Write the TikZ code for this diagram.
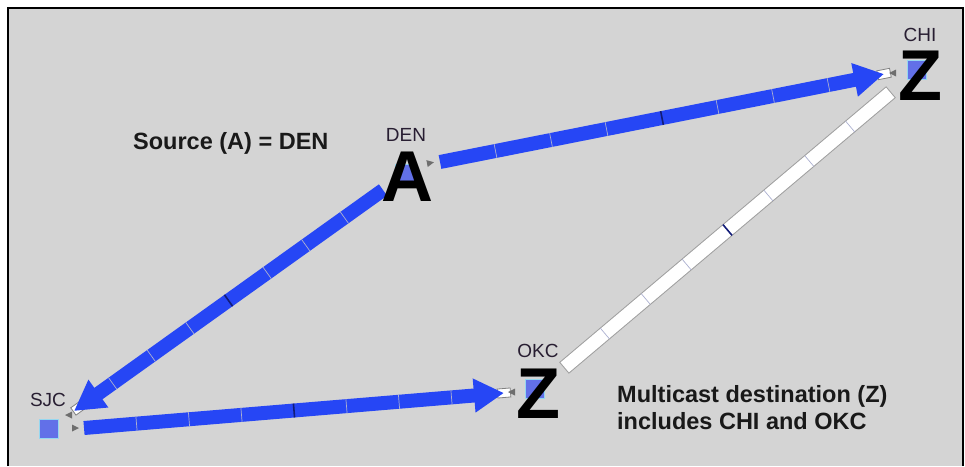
\documentclass[tikz,border=0pt]{standalone}
\usepackage{fontspec}
\setmainfont{Liberation Sans}
\usetikzlibrary{arrows.meta}

\definecolor{panel}{RGB}{212,212,212}
\definecolor{linkblue}{RGB}{38,70,245}
\definecolor{tickblue}{RGB}{18,28,120}
\definecolor{sitefill}{RGB}{98,112,232}
\definecolor{siteglow}{RGB}{150,215,240}
\definecolor{namecol}{RGB}{40,30,50}
\definecolor{markgray}{RGB}{110,110,110}

\newcommand{\portmark}[3]{\fill [markgray, shift={(#1,#2)}, rotate=#3] (4,0) -- (-3,3.5) -- (-3,-3.5) -- cycle;}

\begin{document}
\begin{tikzpicture}[x=1pt,y=-1pt,
    link/.style={draw=linkblue, line width=14pt, -{Triangle[length=30pt,width=32pt]}},
    majortick/.style={inner sep=0pt, minimum width=1.6pt, minimum height=14pt, fill=tickblue},
    minortick/.style={inner sep=0pt, minimum width=0.7pt, minimum height=14pt, fill=tickblue!35},
    portbox/.style={draw=gray, fill=white, line width=0.8pt, inner sep=0pt, minimum width=13pt, minimum height=9pt},
    site/.style={draw=siteglow, line width=1.5pt, fill=sitefill, inner sep=0pt, minimum size=19pt},
    sitename/.style={font=\fontsize{19}{22}\selectfont, text=namecol, inner sep=0pt, anchor=base},
    role/.style={font=\fontsize{72}{80}\selectfont\bfseries, inner sep=0pt, anchor=base},
    note/.style={font=\fontsize{23.5}{27.5}\selectfont\bfseries, text=black!90, inner sep=0pt, align=left}]
  \useasboundingbox (0,0) rectangle (965,466);
  \fill [panel] (8,8) rectangle (963,466);
  \draw [line width=1.5pt] (8,466) -- (8,8) -- (963,8) -- (963,466);

  % link end points
  \coordinate (denOut) at (440,162);
  \coordinate (chiIn) at (884,74);
  \coordinate (denLow) at (383,190);
  \coordinate (sjcIn) at (74,411);
  \coordinate (sjcOut) at (84,428);
  \coordinate (okcIn) at (504,393);
  \coordinate (okcUp) at (564,368);
  \coordinate (chiLow) at (891,92);

  % unused link
  \draw [draw=gray!75, line width=15pt] (okcUp) -- (chiLow);
  \draw [white, line width=13pt, shorten <=1pt, shorten >=1pt] (okcUp) -- (chiLow);

  % ports at the heads
  \path (denOut) -- (chiIn) node [pos=1, sloped, portbox] (chiPort) {};
  \path (denLow) -- (sjcIn) node [pos=0.985, sloped, portbox] (sjcPort) {};
  \path (sjcOut) -- (okcIn) node [pos=1, sloped, portbox] (okcPort) {};

  % multicast tree
  \draw [link] (denOut) -- (chiIn);
  \draw [link] (denLow) -- (sjcIn);
  \draw [link] (sjcOut) -- (okcIn);

  \foreach \a/\b in {denOut/chiIn, denLow/sjcIn, sjcOut/okcIn, okcUp/chiLow}
  {
    \path (\a) -- (\b) node [pos=0.5, sloped, majortick] {};
    \foreach \p in {0.125,0.25,0.375,0.625,0.75,0.875}
      \path (\a) -- (\b) node [pos=\p, sloped, minortick] {};
  }

  % sites
  \node [site] (sjc) at (49,429) {};
  \node [site] (den) at (405,174) {};
  \node [site] (chi) at (917,70) {};
  \node [site] (okc) at (535,389) {};

  \node [role] (roleA) at (407,201) {A};
  \node [role] (roleZc) at (920,100) {Z};
  \node [role] (roleZo) at (538,418) {Z};

  \node [sitename] (sjcName) at (48,406) {SJC};
  \node [sitename] (denName) at (406,141) {DEN};
  \node [sitename] (chiName) at (920,41) {CHI};
  \node [sitename] (okcName) at (538,357) {OKC};

  \portmark{430}{163}{11}
  \portmark{893}{73}{180}
  \portmark{512}{392}{180}
  \portmark{69}{415}{180}
  \portmark{75}{428}{0}

  \node [note, anchor=base west] (source) at (133,149) {Source (A) = DEN};
  \node [note, anchor=north west] (dest) at (617,385) {Multicast destination (Z)\\includes CHI and OKC};
\end{tikzpicture}
\end{document}
